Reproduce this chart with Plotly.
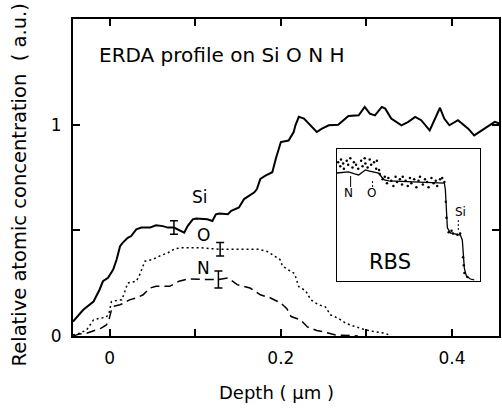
import plotly.graph_objects as go

# ---------------- main ERDA profile data (depth in µm, concentration a.u.) -------------
si_depth = [-0.043, -0.031, -0.019, -0.012, -0.008, -0.002, 0.004, 0.008, 0.012, 0.015,
            0.021, 0.025, 0.031, 0.037, 0.047, 0.054, 0.062, 0.068, 0.075, 0.081, 0.087,
            0.091, 0.097, 0.101, 0.114, 0.120, 0.124, 0.128, 0.138, 0.142, 0.147, 0.151,
            0.157, 0.169, 0.172, 0.176, 0.182, 0.190, 0.194, 0.200, 0.209, 0.215, 0.217,
            0.221, 0.227, 0.233, 0.242, 0.248, 0.256, 0.267, 0.279, 0.291, 0.298, 0.304,
            0.310, 0.318, 0.322, 0.329, 0.341, 0.349, 0.357, 0.364, 0.374, 0.386, 0.391,
            0.397, 0.407, 0.419, 0.426, 0.438, 0.450, 0.456]
si_conc = [0.068, 0.124, 0.163, 0.219, 0.259, 0.275, 0.314, 0.362, 0.425, 0.441,
           0.465, 0.473, 0.505, 0.513, 0.513, 0.524, 0.520, 0.513, 0.513, 0.501, 0.489,
           0.520, 0.552, 0.556, 0.552, 0.544, 0.576, 0.580, 0.576, 0.592, 0.600, 0.608,
           0.648, 0.680, 0.695, 0.743, 0.759, 0.775, 0.838, 0.918, 0.925, 0.965, 0.997,
           1.037, 1.029, 1.005, 0.965, 0.981, 0.997, 1.000, 1.041, 1.044, 1.084, 1.052,
           1.044, 1.084, 1.076, 1.029, 0.997, 1.013, 1.037, 1.021, 0.973, 1.080, 1.029,
           0.997, 1.021, 0.981, 0.949, 0.981, 1.013, 1.005]

o_depth = [-0.043, -0.035, -0.027, -0.019, -0.012, -0.004, -0.001, 0.002, 0.008, 0.014,
           0.017, 0.021, 0.031, 0.035, 0.041, 0.050, 0.058, 0.068, 0.076, 0.085, 0.099,
           0.105, 0.120, 0.130, 0.147, 0.174, 0.184, 0.192, 0.199, 0.202, 0.209, 0.216,
           0.221, 0.229, 0.235, 0.244, 0.252, 0.258, 0.267, 0.276, 0.287, 0.299, 0.310,
           0.322, 0.328]
o_conc = [0.005, 0.013, 0.029, 0.076, 0.084, 0.089, 0.108, 0.163, 0.168, 0.171,
          0.203, 0.251, 0.259, 0.290, 0.354, 0.362, 0.378, 0.394, 0.413, 0.418, 0.418,
          0.418, 0.413, 0.410, 0.410, 0.410, 0.400, 0.378, 0.362, 0.330, 0.314, 0.295,
          0.233, 0.214, 0.171, 0.148, 0.138, 0.100, 0.084, 0.060, 0.044, 0.029, 0.020,
          0.013, 0.002]

n_depth = [-0.043, -0.035, -0.027, -0.017, -0.010, -0.004, -0.001, 0.002, 0.004, 0.012,
           0.017, 0.023, 0.031, 0.039, 0.047, 0.054, 0.070, 0.081, 0.091, 0.114, 0.127,
           0.138, 0.149, 0.164, 0.176, 0.188, 0.200, 0.207, 0.212, 0.223, 0.231, 0.242,
           0.250, 0.264, 0.290]
n_conc = [0.000, 0.010, 0.013, 0.029, 0.037, 0.052, 0.076, 0.124, 0.140, 0.148,
          0.156, 0.171, 0.180, 0.195, 0.227, 0.235, 0.235, 0.259, 0.270, 0.267, 0.267,
          0.275, 0.243, 0.227, 0.195, 0.180, 0.156, 0.129, 0.092, 0.076, 0.043, 0.026,
          0.020, 0.005, 0.000]

# error bars: [Si, O, N]
err_depth = [0.075, 0.129, 0.127]
err_conc = [0.513, 0.410, 0.267]
err_size = [0.032, 0.032, 0.040]

x_tickvals = [0, 0.1, 0.2, 0.3, 0.4]
x_ticktext = ["0", "", "0.2", "", "0.4"]
y_tickvals = [0, 0.5, 1]
y_ticktext = ["0", "", "1"]

# ---------------- inset RBS spectrum (channel, counts; arbitrary units) ----------------
rbs_channel = [0, 4.9, 8.3, 12.5, 15.3, 18.1, 20.1, 22.9, 25.7, 29.2, 31.3, 33.3, 36.1,
               56.9, 75.0, 75.7, 76.4, 77.1, 79.2, 81.9, 86.1, 87.5, 88.2, 88.9, 90.3,
               93.1, 95.8]
rbs_counts = [81.8, 82.6, 82.6, 81.1, 80.3, 82.6, 84.1, 83.3, 82.6, 81.8, 78.8, 76.5, 75.8,
              75.0, 74.2, 68.9, 50.0, 40.2, 36.4, 35.6, 34.8, 31.1, 19.7, 9.8, 3.8,
              1.5, 0.8]
dot_channel = [1, 2.5, 3, 4.5, 5, 7, 8, 9.5, 11, 12, 13.5, 15, 17, 18, 19.5, 20,
               21.5, 23, 24, 26, 27.5, 28, 29.5, 30,
               32, 33.5, 35, 36, 38, 39.5, 41, 42, 44, 45.5, 46, 48, 49.5, 51, 52,
               54, 55.5, 57, 58, 60, 61.5, 63, 64, 66, 67.5, 69, 70, 72, 73.5, 75,
               76.0, 76.5, 78, 80, 81, 84, 86, 88, 88.5, 89, 91]
dot_counts = [90, 87, 92, 89, 85, 91, 88, 93, 86, 90, 88, 85, 91, 87, 93, 89,
              86, 92, 88, 90, 85, 91, 84, 81,
              77, 79, 74, 78, 76, 72, 79, 75, 77, 73, 79, 76, 72, 78, 74,
              77, 71, 76, 79, 73, 77, 75, 71, 78, 74, 76, 72, 77, 78, 75,
              60, 48, 37, 38, 36, 35, 36, 18, 12, 6, 3]

FONT = "DejaVu Sans"

fig = go.Figure()
fig.add_trace(go.Scatter(x=si_depth, y=si_conc, mode="lines",
                         line=dict(color="black", width=2), showlegend=False))
fig.add_trace(go.Scatter(x=o_depth, y=o_conc, mode="lines",
                         line=dict(color="black", width=1.5, dash="2px,3px"), showlegend=False))
fig.add_trace(go.Scatter(x=n_depth, y=n_conc, mode="lines",
                         line=dict(color="black", width=1.5, dash="9px,5px"), showlegend=False))
fig.add_trace(go.Scatter(x=err_depth, y=err_conc, mode="markers",
                         marker=dict(size=1, color="black"),
                         error_y=dict(type="data", array=err_size, color="black",
                                      thickness=1.5, width=4),
                         showlegend=False))

# inset
fig.add_trace(go.Scatter(x=dot_channel, y=dot_counts, mode="markers", xaxis="x2", yaxis="y2",
                         marker=dict(size=2.5, color="black"), showlegend=False))
fig.add_trace(go.Scatter(x=rbs_channel, y=rbs_counts, mode="lines", xaxis="x2", yaxis="y2",
                         line=dict(color="black", width=1.3), showlegend=False))

ann = []
ann.append(dict(x=-0.015, y=1.329, xref="x", yref="y", text="ERDA profile on Si O N H",
                showarrow=False, xanchor="left", yanchor="middle",
                font=dict(family=FONT, size=20, color="black")))
for txt, xx, yy in [("Si", 0.106, 0.657), ("O", 0.109, 0.476), ("N", 0.109, 0.324)]:
    ann.append(dict(x=xx, y=yy, xref="x", yref="y", text=txt, showarrow=False,
                    font=dict(family=FONT, size=17, color="black")))
ann.append(dict(x=-0.126, y=0.476, xref="paper", yref="paper",
                text="Relative atomic concentration  ( a.u.)", textangle=-90,
                showarrow=False, xanchor="center", yanchor="middle",
                font=dict(family=FONT, size=19.5, color="black")))
ann.append(dict(x=0.5, y=0, xref="paper", yref="paper", text="Depth ( µm )",
                showarrow=False, xanchor="center", yanchor="middle", xshift=-10, yshift=-56,
                font=dict(family=FONT, size=18, color="black")))
# inset labels
for txt, xx, yy, sz in [("N", 8.3, 66.7, 12), ("O", 24.3, 66.7, 12), ("Si", 86.1, 52.3, 12),
                        ("RBS", 36.8, 14.4, 21)]:
    ann.append(dict(x=xx, y=yy, xref="x2", yref="y2", text=txt, showarrow=False,
                    font=dict(family=FONT, size=sz, color="black")))

shapes = [
    dict(type="line", xref="x2", yref="y2", x0=9.7, x1=9.7, y0=71.2, y1=79.5,
         line=dict(color="black", width=1)),
    dict(type="line", xref="x2", yref="y2", x0=25, x1=25, y0=71.2, y1=77.3,
         line=dict(color="black", width=1, dash="2px,2px")),
    dict(type="line", xref="x2", yref="y2", x0=84.7, x1=84.7, y0=38.6, y1=46.2,
         line=dict(color="black", width=1, dash="2px,2px")),
]

fig.update_layout(
    width=502, height=411, autosize=False,
    margin=dict(l=73, r=1, t=19, b=75),
    paper_bgcolor="white", plot_bgcolor="white",
    font=dict(family=FONT, size=17, color="black"),
    xaxis=dict(range=[-0.043, 0.455], tickvals=x_tickvals, ticktext=x_ticktext,
               ticks="inside", ticklen=7, tickwidth=1.5, tickcolor="black",
               showline=True, linecolor="black", linewidth=1.8, mirror="allticks",
               showgrid=False, zeroline=False, ticklabelstandoff=6,
               tickfont=dict(family=FONT, size=17)),
    yaxis=dict(range=[0, 1.5], tickvals=y_tickvals, ticktext=y_ticktext,
               ticks="inside", ticklen=7, tickwidth=1.5, tickcolor="black",
               showline=True, linecolor="black", linewidth=1.8, mirror="allticks",
               showgrid=False, zeroline=False, ticklabelstandoff=6,
               tickfont=dict(family=FONT, size=17)),
    xaxis2=dict(domain=[0.619, 0.956], anchor="y2", range=[0, 100],
                showline=True, linecolor="black", linewidth=1.2, mirror=True,
                showticklabels=False, ticks="", showgrid=False, zeroline=False),
    yaxis2=dict(domain=[0.1735, 0.59], anchor="x2", range=[0, 100],
                showline=True, linecolor="black", linewidth=1.2, mirror=True,
                showticklabels=False, ticks="", showgrid=False, zeroline=False),
    annotations=ann, shapes=shapes,
)

fig.write_html("out.html")
